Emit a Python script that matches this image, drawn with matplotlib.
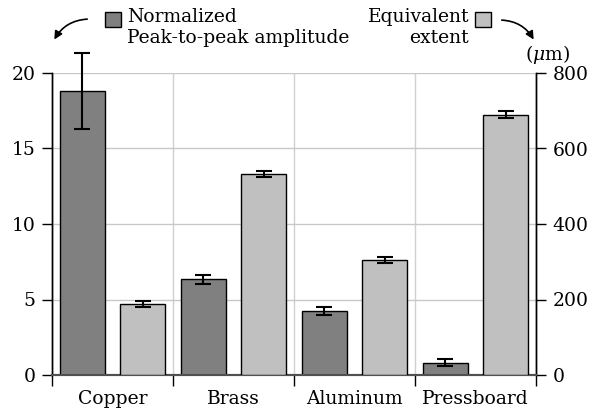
import numpy as np
import matplotlib.pyplot as plt
from matplotlib.patches import Rectangle

plt.rcParams['font.family'] = ['DejaVu Serif']
plt.rcParams['mathtext.fontset'] = 'dejavuserif'

# data
materials = ["Copper", "Brass", "Aluminum", "Pressboard"]
amplitude = [18.8, 6.35, 4.25, 0.82]        # normalized peak-to-peak amplitude
amplitude_err = [2.5, 0.3, 0.27, 0.25]
extent = [187, 533, 304, 690]               # equivalent extent (um)
extent_err = [8, 8, 8, 9]

dark = "#808080"
light = "#c0c0c0"
fs = 13.5

fig = plt.figure(figsize=(6, 4.17), dpi=100)
ax = fig.add_axes([52/600, 42/417, 484/600, 302/417])
ax2 = ax.twinx()

x = np.arange(len(materials))
w = 0.375
ax.bar(x + 0.25, amplitude, w, color=dark, edgecolor="black", linewidth=1, zorder=3)
eb1 = ax.errorbar(x + 0.25, amplitude, yerr=amplitude_err, fmt="none", ecolor="black",
                  elinewidth=1.5, capsize=5.5, capthick=1.5, zorder=4)
ax2.bar(x + 0.75, extent, w, color=light, edgecolor="black", linewidth=1, zorder=3)
eb2 = ax2.errorbar(x + 0.75, extent, yerr=extent_err, fmt="none", ecolor="black",
                   elinewidth=1.5, capsize=5.5, capthick=1.5, zorder=4)
for eb in (eb1, eb2):
    for art in eb.lines[1] + eb.lines[2]:
        art.set_clip_on(False)

ax.set_xlim(0, 4)
ax.set_ylim(0, 20)
ax2.set_ylim(0, 800)
ax.set_yticks([0, 5, 10, 15, 20])
ax2.set_yticks([0, 200, 400, 600, 800])

# category labels centred, tick marks on boundaries
ax.set_xticks(x + 0.5)
ax.set_xticklabels(materials, fontsize=fs)
ax.tick_params(axis="x", which="major", length=0, pad=11)
ax.set_xticks([0, 1, 2, 3, 4], minor=True)
ax.tick_params(axis="x", which="minor", length=8, width=1, direction="out", color="black")
ax.tick_params(axis="y", labelsize=fs, length=7, width=1, direction="out", pad=5)
ax2.tick_params(axis="y", labelsize=fs, length=7, width=1, direction="out", pad=5)

ax.grid(axis="y", color="#c8c8c8", linewidth=1, zorder=0)
ax.grid(axis="x", which="minor", color="#d0d0d0", linewidth=1, zorder=0)
ax.set_axisbelow(True)
ax2.set_zorder(ax.get_zorder() + 1)
ax2.patch.set_visible(False)

for a in (ax, ax2):
    a.spines["top"].set_visible(False)
    a.spines["bottom"].set_color("#505050")
    a.spines["bottom"].set_linewidth(1.5)
    a.spines["left"].set_linewidth(1)
    a.spines["right"].set_linewidth(1)

# legend-like labels at the top
fig.patches.append(Rectangle((105/600, (417-27)/417), 16/600, 15/417, transform=fig.transFigure,
                             facecolor=dark, edgecolor="black", linewidth=1))
fig.text(127/600, (417-8)/417, "Normalized\nPeak-to-peak amplitude", ha="left", va="top",
         fontsize=fs, linespacing=1.2)
fig.patches.append(Rectangle((475/600, (417-27)/417), 16/600, 15/417, transform=fig.transFigure,
                             facecolor=light, edgecolor="black", linewidth=1))
fig.text(469/600, (417-8)/417, "Equivalent\nextent", ha="right", va="top",
         fontsize=fs, linespacing=1.2, multialignment="right")
fig.text(525/600, (417-43)/417, r"($\mu$m)", ha="left", va="top", fontsize=fs)

ax.annotate("", xy=(53, 417-42), xycoords="figure pixels", xytext=(90, 417-19),
            textcoords="figure pixels",
            arrowprops=dict(arrowstyle="-|>", color="black", lw=1.2,
                            connectionstyle="arc3,rad=0.3", mutation_scale=12))
ax.annotate("", xy=(535, 417-42), xycoords="figure pixels", xytext=(499, 417-20),
            textcoords="figure pixels",
            arrowprops=dict(arrowstyle="-|>", color="black", lw=1.2,
                            connectionstyle="arc3,rad=-0.3", mutation_scale=12))

plt.savefig("out.png", dpi=100)
